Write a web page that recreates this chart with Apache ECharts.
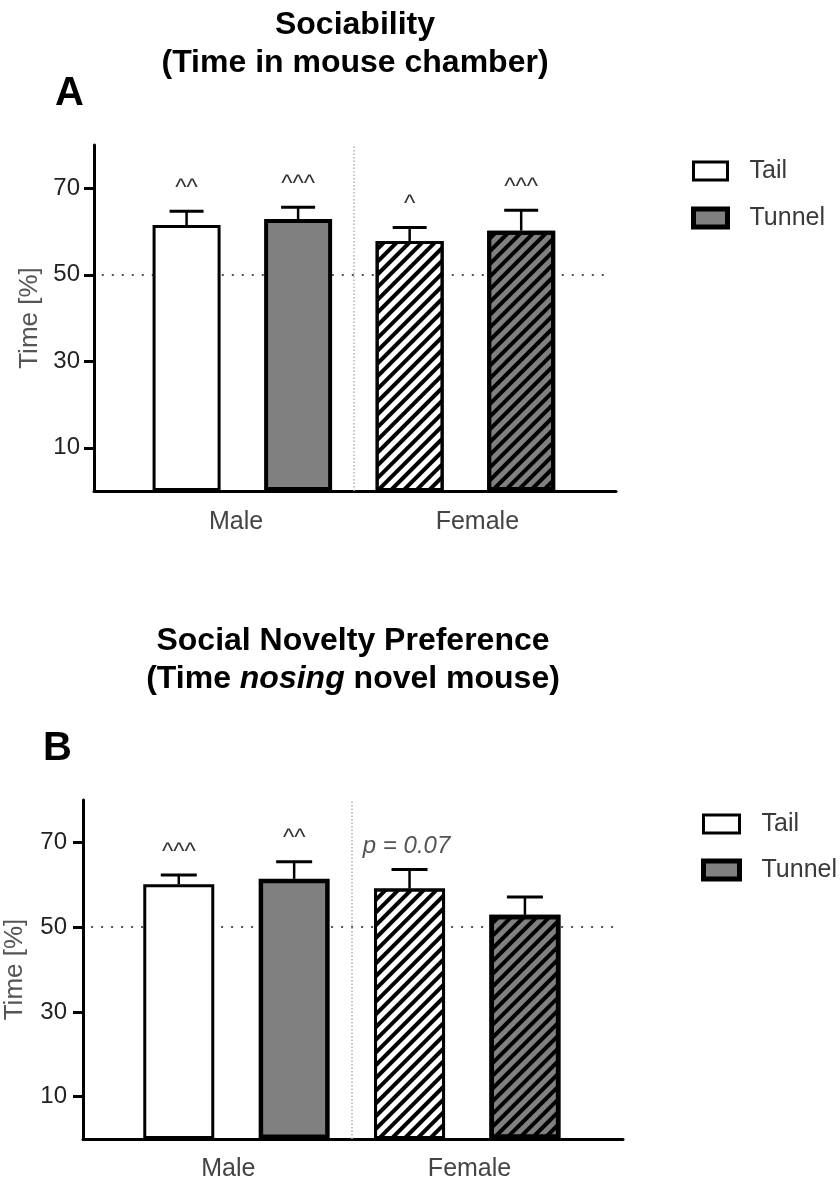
<!DOCTYPE html>
<html><head><meta charset="utf-8">
<script src="https://cdn.jsdelivr.net/npm/echarts@6/dist/echarts.min.js"></script>
<style>html,body{margin:0;padding:0;background:#fff}#c{width:840px;height:1180px}</style>
</head><body><div id="c"></div>
<script>
// ---- data ----
const groups = ['Male', 'Female'];
const seriesNames = ['Tail', 'Tunnel'];
const yTicks = [10, 30, 50, 70];
const chance = 50;
// Panel A: Sociability (time in mouse chamber)
const tailA = [61.5, 57.8];
const tailErrA = [3.2, 3.1];
const tunnelA = [62.9, 60.2];
const tunnelErrA = [2.7, 4.7];
const marksA = ['^^', '^^^', '^', '^^^']; // Male Tail, Male Tunnel, Female Tail, Female Tunnel
// Panel B: Social novelty preference (time nosing novel mouse)
const tailB = [60.1, 59.1];
const tailErrB = [2.2, 4.5];
const tunnelB = [61.4, 52.9];
const tunnelErrB = [4.0, 4.2];
const marksB = ['^^^', '^^', 'p = 0.07', ''];

// ---- styling ----
const FONT = "'Liberation Sans', Arial, Helvetica, sans-serif";
const stripes = {symbol: 'rect', symbolSize: 1, color: '#000', dashArrayX: [1, 0], dashArrayY: [4, 5], rotation: -Math.PI / 4};

function panel(i, tail, tailErr, tunnel, tunnelErr, marks, cfg) {
  const tailStyle = {color: '#ffffff', borderColor: '#000', borderWidth: 3};
  const tunStyle = {color: '#808080', borderColor: '#000', borderWidth: cfg.tunBorder};
  // slot positions: group g, series s -> g*2 + s + 1
  const tailData = tail.map((v, g) => g === 1
    ? {value: [g * 2 + 1, v], itemStyle: Object.assign({}, tailStyle, {decal: stripes})}
    : {value: [g * 2 + 1, v]});
  const tunData = tunnel.map((v, g) => g === 1
    ? {value: [g * 2 + 2, v], itemStyle: Object.assign({}, tunStyle, {decal: stripes})}
    : {value: [g * 2 + 2, v]});
  const errData = [];
  groups.forEach((g, gi) => {
    errData.push([gi * 2 + 1, tail[gi], tailErr[gi]]);
    errData.push([gi * 2 + 2, tunnel[gi], tunnelErr[gi]]);
  });
  const grid = {left: cfg.left, top: cfg.top, width: cfg.width, height: cfg.height,
    containLabel: false, outerBoundsMode: 'none'};
  const xAxis = {
    type: 'value', gridIndex: i, min: 0.17, max: 4.85,
    axisLine: {show: true, onZero: false, lineStyle: {color: '#000', width: 3}},
    axisTick: {show: false}, splitLine: {show: false},
    axisLabel: {customValues: cfg.labelPos, formatter: v => v < 2.5 ? groups[0] : groups[1],
      fontSize: 25, color: '#444', margin: cfg.xMargin, fontFamily: FONT}
  };
  const yAxis = {
    type: 'value', gridIndex: i, min: 0, max: 80,
    axisLine: {show: true, lineStyle: {color: '#000', width: 3}},
    axisTick: {show: true, length: 10, customValues: yTicks, lineStyle: {color: '#000', width: 3}},
    axisLabel: {customValues: yTicks, fontSize: 24, color: '#222', margin: cfg.yMargin, fontFamily: FONT},
    splitLine: {show: false},
    name: 'Time [%]', nameLocation: 'middle', nameGap: cfg.nameGap,
    nameTextStyle: {fontSize: 26, color: '#555', fontFamily: FONT}
  };
  const series = [
    {
      type: 'bar', name: seriesNames[0], xAxisIndex: i, yAxisIndex: i,
      barWidth: cfg.barWidth, barGap: '-100%', itemStyle: tailStyle, data: tailData, z: 2,
      markLine: {
        silent: true, symbol: 'none', z: 1, label: {show: false},
        lineStyle: {color: '#b0b0b0', type: [1.5, 2], width: 1.5},
        data: [
          [{coord: [0.24, chance], lineStyle: {color: '#555', type: [2, 8], width: 2}}, {coord: [4.78, chance]}],
          {xAxis: 2.5}
        ]
      }
    },
    {
      type: 'bar', name: seriesNames[1], xAxisIndex: i, yAxisIndex: i,
      barWidth: cfg.barWidth, barGap: '-100%', itemStyle: tunStyle, data: tunData, z: 2
    },
    {
      type: 'custom', name: 'err' + i, xAxisIndex: i, yAxisIndex: i, z: 4, data: errData,
      renderItem: function (params, api) {
        const x = api.value(0), v = api.value(1), e = api.value(2);
        const base = api.coord([x, v]);
        const top = api.coord([x, v + e]);
        const cw = cfg.capW;
        const children = [
          {type: 'line', shape: {x1: base[0], y1: base[1], x2: top[0], y2: top[1]}, style: {stroke: '#000', lineWidth: 2.5}},
          {type: 'line', shape: {x1: top[0] - cw / 2, y1: top[1], x2: top[0] + cw / 2, y2: top[1]}, style: {stroke: '#000', lineWidth: 3}}
        ];
        const t = marks[params.dataIndex];
        if (t) {
          const isP = t.indexOf('p') === 0;
          children.push({type: 'text', x: top[0] - (isP ? 3 : 0), y: top[1] - 23,
            style: {text: t, fontSize: 24, fontStyle: isP ? 'italic' : 'normal', fill: isP ? '#555' : '#333',
              align: 'center', verticalAlign: 'middle', fontFamily: FONT}});
        }
        return {type: 'group', children: children};
      }
    }
  ];
  const legend = {
    orient: 'vertical', left: cfg.legLeft, top: cfg.legTop, padding: 0,
    itemWidth: cfg.legW, itemHeight: 18, itemGap: cfg.legGap,
    icon: 'rect', selectedMode: false,
    textStyle: {fontSize: 25, color: '#3a3a3a', lineHeight: 26, padding: [0, 0, 0, 17], fontFamily: FONT},
    data: [
      {name: seriesNames[0], itemStyle: {color: '#fff', borderColor: '#000', borderWidth: 3}},
      {name: seriesNames[1], itemStyle: {color: '#808080', borderColor: '#000', borderWidth: 5}}
    ]
  };
  return {grid, xAxis, yAxis, series, legend};
}

const pA = panel(0, tailA, tailErrA, tunnelA, tunnelErrA, marksA,
  {left: 94, top: 145, width: 522, height: 346, barWidth: 68, tunBorder: 4, capW: 34,
   labelPos: [1.444, 3.607], xMargin: 19, yMargin: 14, nameGap: 50,
   legLeft: 691, legTop: 158, legW: 34, legGap: 21});
const pB = panel(1, tailB, tailErrB, tunnelB, tunnelErrB, marksB,
  {left: 83, top: 800, width: 540, height: 339, barWidth: 71, tunBorder: 4.5, capW: 36,
   labelPos: [1.43, 3.52], xMargin: 18, yMargin: 16, nameGap: 55,
   legLeft: 701, legTop: 811, legW: 36, legGap: 20});

const titleBold = {fontSize: 32, fontWeight: 'bold', color: '#000', lineHeight: 38, fontFamily: FONT};
const option = {
  animation: false,
  backgroundColor: '#fff',
  textStyle: {fontFamily: FONT},
  title: [
    {text: 'Sociability\n(Time in mouse chamber)', left: 355, top: 6, padding: 0, textAlign: 'center', textStyle: titleBold},
    {text: 'A', left: 55, top: 74, padding: 0, textStyle: {fontSize: 40, fontWeight: 'bold', color: '#000', lineHeight: 40, fontFamily: FONT}},
    {text: '{b|Social Novelty Preference}\n{b|(Time }{i|nosing}{b| novel mouse)}', left: 353, top: 622, padding: 0, textAlign: 'center',
     textStyle: {rich: {b: titleBold, i: Object.assign({}, titleBold, {fontStyle: 'italic'})}}},
    {text: 'B', left: 43, top: 729, padding: 0, textStyle: {fontSize: 40, fontWeight: 'bold', color: '#000', lineHeight: 40, fontFamily: FONT}}
  ],
  grid: [pA.grid, pB.grid],
  xAxis: [pA.xAxis, pB.xAxis],
  yAxis: [pA.yAxis, pB.yAxis],
  legend: [pA.legend, pB.legend],
  series: pA.series.concat(pB.series)
};
const chart = echarts.init(document.getElementById('c'), null, {renderer: 'canvas'});
chart.setOption(option);
</script>
</body></html>
